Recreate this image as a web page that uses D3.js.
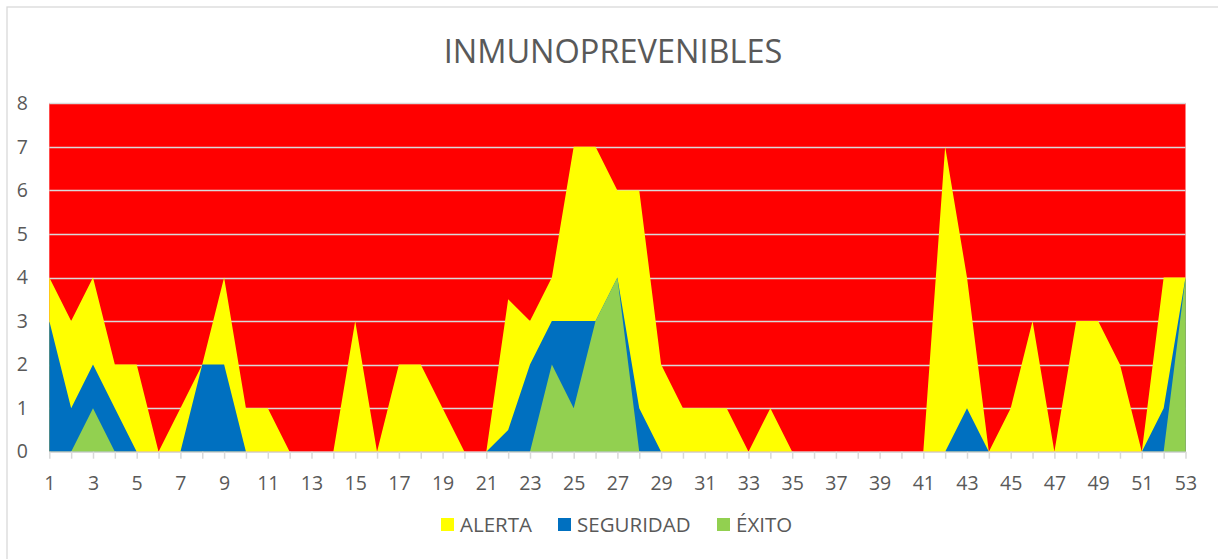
<!DOCTYPE html>
<html>
<head>
<meta charset="utf-8">
<script src="https://cdn.jsdelivr.net/npm/d3@7"></script>
<style>
  html, body { margin: 0; padding: 0; background: #fff; }
  svg { display: block; }
  text { font-family: "Open Sans", "Noto Sans", sans-serif; fill: #595959; }
</style>
</head>
<body>
<svg id="chart" width="1218" height="559"></svg>
<script>
const weeks = d3.range(1, 54);
const alerta = [4,3,4,2,2,0,1,2,4,1,1,0,0,0,3,0,2,2,1,0,0,3.5,3,4,7,7,6,6,2,1,1,1,0,1,0,0,0,0,0,0,0,7,4,0,1,3,0,3,3,2,0,4,4];
const seguridad = [3,1,2,1,0,0,0,2,2,0,0,0,0,0,0,0,0,0,0,0,0,0.5,2,3,3,3,4,1,0,0,0,0,0,0,0,0,0,0,0,0,0,0,1,0,0,0,0,0,0,0,0,1,4];
const exito = [0,0,1,0,0,0,0,0,0,0,0,0,0,0,0,0,0,0,0,0,0,0,0,2,1,3,4,0,0,0,0,0,0,0,0,0,0,0,0,0,0,0,0,0,0,0,0,0,0,0,0,0,4];
const yTicks = [0,1,2,3,4,5,6,7,8];
const title = "INMUNOPREVENIBLES";
const seriesNames = ["ALERTA", "SEGURIDAD", "ÉXITO"];
const colors = ["#FFFF00", "#0070C0", "#92D050"];

(function () {
const svg = d3.select("#chart");
const W = 1218, H = 559;
const pL = 49.3, pR = 1185.5, pT = 103.3, pB = 451.7;

// chart border
svg.append("rect").attr("x", 7).attr("y", 7).attr("width", W + 10).attr("height", H + 10)
  .attr("fill", "#fff").attr("stroke", "#D9D9D9").attr("stroke-width", 1.3);

const x = d3.scaleLinear().domain([1, 53]).range([pL, pR]);
const y = d3.scaleLinear().domain([0, 8]).range([pB, pT]);

// title
svg.append("text").attr("x", 613).attr("y", 63).attr("text-anchor", "middle")
  .style("font-size", "32.5px").text(title);

// plot background (red)
svg.append("rect").attr("x", pL).attr("y", pT).attr("width", pR - pL).attr("height", pB - pT)
  .attr("fill", "#FF0000");

// gridlines
svg.append("g").selectAll("line").data(yTicks.filter(t => t > 0)).join("line")
  .attr("x1", pL).attr("x2", pR)
  .attr("y1", d => Math.round(y(d)) + 0.5).attr("y2", d => Math.round(y(d)) + 0.5)
  .attr("stroke", "#D9D9D9").attr("stroke-width", 1.5);

// areas
[alerta, seguridad, exito].forEach((vals, i) => {
  const area = d3.area()
    .x((d, j) => x(weeks[j]))
    .y0(y(0))
    .y1(d => y(d));
  svg.append("path").datum(vals).attr("d", area).attr("fill", colors[i]);
});

// x axis
const xAxis = d3.axisBottom(x).tickValues(weeks).tickSize(7).tickFormat(d => (d % 2 === 1 ? d : ""));
const gx = svg.append("g").attr("transform", `translate(0,${pB})`).call(xAxis);
gx.select(".domain").attr("stroke", "#D9D9D9").attr("stroke-width", 1.5).attr("d", `M${pL},0.5H${pR}`);
gx.selectAll(".tick line").attr("stroke", "#D9D9D9").attr("stroke-width", 1.5);
gx.selectAll(".tick text").attr("y", 24).attr("dy", "0.71em")
  .style("font-size", "19.5px").style("font-family", "'Open Sans', sans-serif").attr("fill", "#595959");

// y axis labels
const yAxis = d3.axisLeft(y).tickValues(yTicks).tickSize(0).tickPadding(0);
const gy = svg.append("g").attr("transform", `translate(28,0)`).call(yAxis);
gy.select(".domain").remove();
gy.selectAll(".tick text").style("font-size", "19.5px").style("font-family", "'Open Sans', sans-serif").attr("fill", "#595959");

// legend
const legendX = [441, 558, 717];
const lg = svg.append("g");
seriesNames.forEach((n, i) => {
  lg.append("rect").attr("x", legendX[i]).attr("y", 518).attr("width", 13).attr("height", 13).attr("fill", colors[i]);
  lg.append("text").attr("x", legendX[i] + 19).attr("y", 532).style("font-size", "20.5px").text(n);
});
})();
</script>
</body>
</html>
